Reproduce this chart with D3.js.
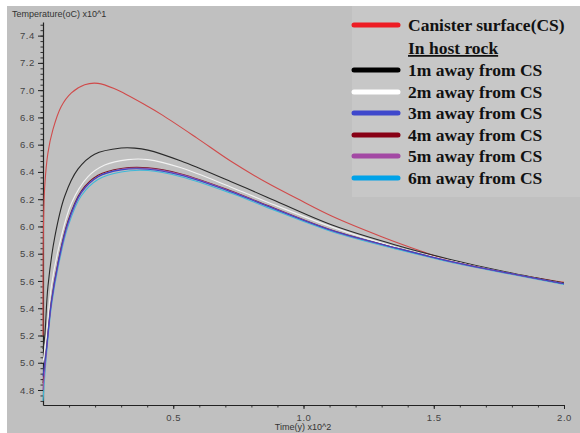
<!DOCTYPE html>
<html>
<head>
<meta charset="utf-8">
<script src="https://cdn.jsdelivr.net/npm/d3@7"></script>
<style>
  body { margin: 0; background: #fff; }
  svg { display: block; }
</style>
</head>
<body>
<div id="chart"></div>
<script>
// values: [time (x10^2 y), temperature (x10^1 oC)]
const canister = [[0,5.2],[0.0015,5.97],[0.0065,6.29],[0.019,6.54],[0.038,6.71],[0.07,6.88],[0.109,6.98],[0.16,7.04],[0.211,7.05],[0.275,7.01],[0.403,6.88],[0.46,6.815],[0.59,6.65],[0.72,6.48],[0.86,6.32],[0.975,6.205],[1.11,6.075],[1.3,5.925],[1.45,5.82],[1.56,5.75],[1.78,5.66],[2.0,5.59]];
const away1m = [[0,5.1],[0.0065,5.19],[0.019,5.56],[0.045,5.92],[0.083,6.22],[0.134,6.42],[0.198,6.53],[0.30,6.575],[0.352,6.575],[0.403,6.56],[0.53,6.48],[0.72,6.33],[0.86,6.215],[1.11,6.01],[1.37,5.855],[1.56,5.76],[1.78,5.665],[2.0,5.585]];
const away2m = [[0,5.0],[0.0127,5.19],[0.032,5.56],[0.064,5.875],[0.109,6.17],[0.173,6.365],[0.237,6.45],[0.326,6.49],[0.403,6.49],[0.53,6.43],[0.72,6.29],[0.86,6.18],[1.11,5.995],[1.37,5.84],[1.56,5.75],[1.78,5.66],[2.0,5.58]];
const away3m = [[0,4.9],[0.0127,5.09],[0.032,5.44],[0.058,5.73],[0.096,6.03],[0.147,6.25],[0.211,6.365],[0.30,6.415],[0.403,6.42],[0.53,6.375],[0.72,6.255],[0.86,6.15],[1.11,5.97],[1.37,5.835],[1.56,5.745],[1.78,5.66],[2.0,5.58]];
const away4m = [[0,4.85],[0.0127,5.09],[0.032,5.45],[0.058,5.74],[0.096,6.04],[0.147,6.26],[0.211,6.375],[0.30,6.425],[0.403,6.43],[0.53,6.385],[0.72,6.262],[0.86,6.155],[1.11,5.972],[1.37,5.836],[1.56,5.746],[1.78,5.66],[2.0,5.58]];
const away5m = [[0,4.8],[0.0127,5.07],[0.032,5.43],[0.058,5.72],[0.096,6.02],[0.147,6.245],[0.211,6.365],[0.30,6.42],[0.403,6.425],[0.53,6.38],[0.72,6.258],[0.86,6.152],[1.11,5.969],[1.37,5.834],[1.56,5.744],[1.78,5.659],[2.0,5.579]];
const away6m = [[0,4.72],[0.0127,5.04],[0.032,5.41],[0.058,5.7],[0.096,6.0],[0.147,6.225],[0.211,6.345],[0.30,6.4],[0.403,6.41],[0.53,6.365],[0.72,6.245],[0.86,6.14],[1.11,5.962],[1.37,5.828],[1.56,5.74],[1.78,5.655],[2.0,5.575]];

const xTicks = [0.5, 1.0, 1.5, 2.0];
const yTicks = [4.8, 5.0, 5.2, 5.4, 5.6, 5.8, 6.0, 6.2, 6.4, 6.6, 6.8, 7.0, 7.2, 7.4];

const legendLabels = ["Canister surface(CS)", "In host rock", "1m away from CS", "2m away from CS",
  "3m away from CS", "4m away from CS", "5m away from CS", "6m away from CS"];
const legendKeys = ["#ed1c24", null, "#000000", "#ffffff", "#3f48cc", "#880015", "#a349a4", "#00a2e8"];

// plot line colours (drawn back to front)
const series = [
  { data: canister, line: "#d04a4a" },
  { data: away1m, line: "#2a2a2a" },
  { data: away2m, line: "#f2f2f2" },
  { data: away6m, line: "#40b8d8" },
  { data: away4m, line: "#7a1828" },
  { data: away5m, line: "#a058b0" },
  { data: away3m, line: "#3c46c4" }
];

const width = 580, height = 433;

const svg = d3.select("#chart").append("svg")
  .attr("width", width)
  .attr("height", height);

// grey panel
svg.append("rect")
  .attr("x", 7).attr("y", 6)
  .attr("width", width - 7).attr("height", height - 6)
  .attr("fill", "#c0c0c0");

const x = d3.scaleLinear().domain([0, 2]).range([43, 564]);
const y = d3.scaleLinear().domain([4.69, 7.5]).range([405, 22]);

// minor ticks
svg.append("g")
  .attr("transform", `translate(43,0)`)
  .call(d3.axisLeft(y).tickValues(d3.range(4.72, 7.49, 0.04)).tickSize(2.5).tickFormat("").tickSizeOuter(0))
  .call(g => g.select(".domain").remove())
  .selectAll("line").attr("stroke", "#333");

svg.append("g")
  .attr("transform", `translate(0,405)`)
  .call(d3.axisBottom(x).tickValues(d3.range(0.1, 2.0, 0.1)).tickSize(2.5).tickFormat("").tickSizeOuter(0))
  .call(g => g.select(".domain").remove())
  .selectAll("line").attr("stroke", "#333");

// major axes
const yAxis = svg.append("g")
  .attr("transform", `translate(43,0)`)
  .call(d3.axisLeft(y).tickValues(yTicks).tickSize(5).tickPadding(3).tickSizeOuter(0).tickFormat(d3.format(".1f")));

const xAxis = svg.append("g")
  .attr("transform", `translate(0,405)`)
  .call(d3.axisBottom(x).tickValues(xTicks).tickSize(4).tickPadding(5).tickSizeOuter(0).tickFormat(d3.format(".1f")));

[yAxis, xAxis].forEach(g => {
  g.select(".domain").attr("stroke", "#222").attr("stroke-width", 1.2);
  g.selectAll(".tick line").attr("stroke", "#222");
  g.selectAll("text")
    .attr("fill", "#444")
    .style("font-family", "Liberation Sans, Arial, sans-serif")
    .style("font-size", "9.5px")
    .style("letter-spacing", "0.6px");
});

// axis titles
svg.append("text")
  .attr("x", 12).attr("y", 17)
  .attr("fill", "#333")
  .style("font-family", "Liberation Sans, Arial, sans-serif")
  .style("font-size", "9px")
  .text("Temperature(oC) x10^1");

svg.append("text")
  .attr("x", 303).attr("y", 430)
  .attr("text-anchor", "middle")
  .attr("fill", "#333")
  .style("font-family", "Liberation Sans, Arial, sans-serif")
  .style("font-size", "9px")
  .text("Time(y) x10^2");

// curves
const line = d3.line()
  .x(d => x(d[0]))
  .y(d => y(d[1]))
  .curve(d3.curveCatmullRom.alpha(0.5));

svg.append("g").selectAll("path")
  .data(series)
  .join("path")
  .attr("d", d => line(d.data))
  .attr("fill", "none")
  .attr("stroke", d => d.line)
  .attr("stroke-width", 1.1);

// legend
const legend = svg.append("g");
legend.append("rect")
  .attr("x", 352).attr("y", 6)
  .attr("width", width - 352).attr("height", 191)
  .attr("fill", "#c7c7c7");

const rowY = [25, 48, 70, 92, 113, 135, 156, 178];

const rows = legend.selectAll("g.row")
  .data(legendLabels)
  .join("g")
  .attr("class", "row")
  .attr("transform", (d, i) => `translate(0,${rowY[i]})`);

rows.filter((d, i) => legendKeys[i])
  .append("line")
  .attr("x1", 354).attr("x2", 398)
  .attr("stroke", d => legendKeys[legendLabels.indexOf(d)])
  .attr("stroke-width", 5)
  .attr("stroke-linecap", "round");

rows.append("text")
  .attr("x", 408).attr("y", 6)
  .attr("fill", "#111")
  .style("font-family", "Liberation Serif, Times New Roman, serif")
  .style("font-weight", "bold")
  .style("font-size", "17.5px")
  .style("text-decoration", d => d === "In host rock" ? "underline" : null)
  .text(d => d);
</script>
</body>
</html>
